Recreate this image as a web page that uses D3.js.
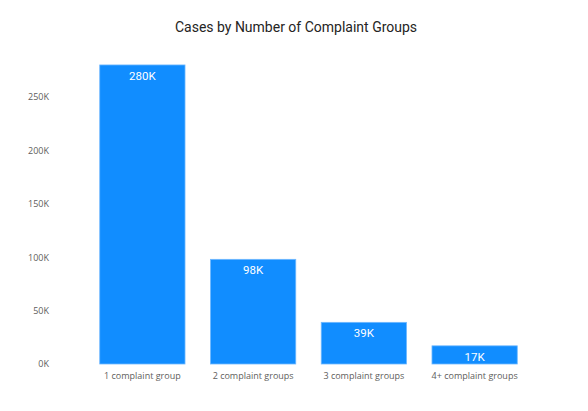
<!DOCTYPE html>
<html>
<head>
	<title></title>
	<style type="text/css">
*{
	margin: 0;
	padding: 0;
}
html,body{
	width: 100%;
	height: 100%;
	background: #fff;
}
svg{
	display: block;
}
	</style>
</head>
<body>
	<script src="https://cdn.jsdelivr.net/npm/d3@7/dist/d3.min.js"></script>
	<script>
		// data
		var categories = ["1 complaint group", "2 complaint groups", "3 complaint groups", "4+ complaint groups"];
		var cases = [280000, 98000, 39000, 17000];
		var yTicks = [0, 50000, 100000, 150000, 200000, 250000];
		var labels = ["280K", "98K", "39K", "17K"];

		var data = categories.map((c, i) => ({name: c, value: cases[i], label: labels[i]}));

		var width = 588;
		var height = 411;
		var margin = ({
			top: 64,
			right: 58,
			bottom: 47,
			left: 87
		})

		const svg = d3.select("body").append("svg")
			.attr("width", width)
			.attr("height", height);

		var x = d3.scaleBand()
				.domain(categories)
				.range([margin.left, width - margin.right])
				.paddingInner(0.23)
				.paddingOuter(0.115)

		var y = d3.scaleLinear()
				.domain([0, 250000 * 300 / 267])
				.range([height - margin.bottom, height - margin.bottom - 300])

		// title
		svg.append("text")
			.attr("x", 296)
			.attr("y", 32)
			.attr("text-anchor", "middle")
			.attr("font-family", "Roboto, 'Noto Sans', sans-serif")
			.attr("font-size", 14)
			.attr("fill", "#252423")
			.text("Cases by Number of Complaint Groups")

		// bars
		svg.append("g")
			.attr("class", "bars")
			.attr("fill", "#118DFF")
			.selectAll("rect")
			.data(data)
			.join("rect")
			.attr("x", d => x(d.name))
			.attr("y", d => y(d.value))
			.attr("width", x.bandwidth())
			.attr("height", d => y(0) - y(d.value))
			.attr("stroke", "#6fb8ff")
			.attr("stroke-width", 0.8)

		// data labels
		svg.append("g")
			.attr("class", "labels")
			.selectAll("text")
			.data(data)
			.join("text")
			.attr("x", d => x(d.name) + x.bandwidth() / 2)
			.attr("y", d => y(d.value) + 15)
			.attr("text-anchor", "middle")
			.attr("font-family", "Roboto, 'Noto Sans', sans-serif")
			.attr("font-size", 11.5)
			.attr("fill", "#fff")
			.text(d => d.label)

		// x axis
		const xAxis = svg.append("g")
			.attr("class", "x-axis")
			.attr("transform", `translate(0,${y(0)})`)
			.call(d3.axisBottom(x).tickSize(0).tickPadding(9))
		xAxis.select(".domain").remove()
		xAxis.selectAll("text")
			.attr("font-family", "'Open Sans', 'Noto Sans', sans-serif")
			.attr("font-size", 9)
			.attr("fill", "#605E5C")

		// y axis
		const yAxis = svg.append("g")
			.attr("class", "y-axis")
			.attr("transform", `translate(49,0)`)
			.call(d3.axisLeft(y).tickValues(yTicks).tickSize(0).tickPadding(0)
				.tickFormat(d => (d / 1000) + "K"))
		yAxis.select(".domain").remove()
		yAxis.selectAll("text")
			.attr("font-family", "'Open Sans', 'Noto Sans', sans-serif")
			.attr("font-size", 9)
			.attr("fill", "#605E5C")
	</script>
</body>
</html>
